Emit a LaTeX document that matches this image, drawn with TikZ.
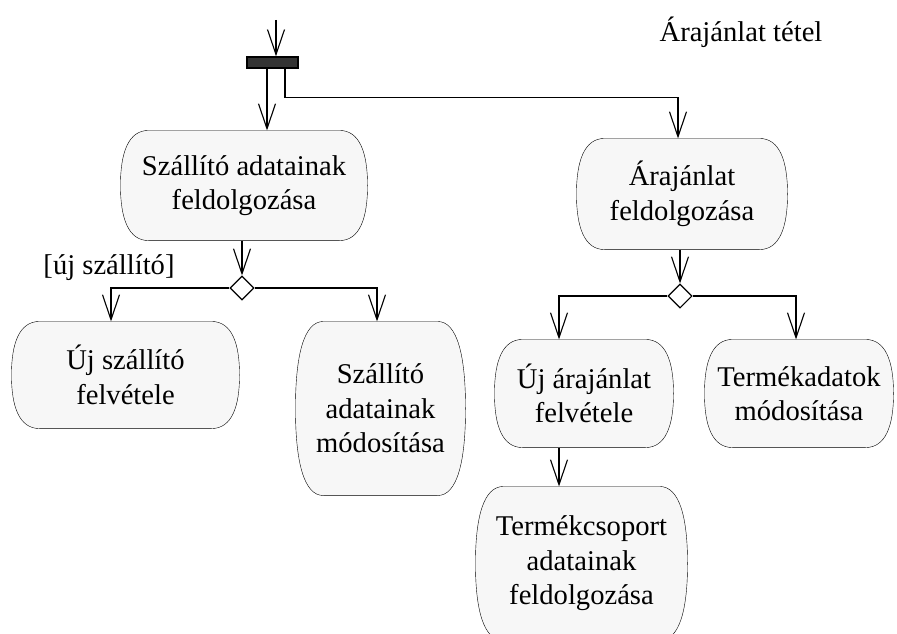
\documentclass[tikz,border=0pt]{standalone}
\usepackage{fontspec}
\setmainfont{Liberation Serif}
\definecolor{actgray}{RGB}{247,247,247}
\definecolor{bargray}{RGB}{51,51,51}
\usetikzlibrary{shapes.geometric,arrows.meta,positioning,calc,backgrounds}
\tikzset{
  activity/.style={align=center,inner sep=0pt},
  decision/.style={draw,fill=white,diamond,minimum width=24pt,minimum height=24pt,inner sep=0pt},
  forkbar/.style={draw,fill=bargray,line width=1.5pt,minimum width=51pt,minimum height=11pt,inner sep=0pt},
  flow/.style={-{Straight Barb[length=25pt,width=17pt]}},
}

\begin{document}
\begin{tikzpicture}[x=1pt,y=-1pt,line width=1.1pt,font=\fontsize{28.6}{34.5}\selectfont]
  \useasboundingbox (0,0) rectangle (897,634);
  \node (title) at (741,32) {Árajánlat tétel};
  \coordinate (start) at (276,20);
  \node[forkbar] (fork) at (272.5,62.5) {};
  \node[activity,minimum width=246pt,minimum height=109pt] (szfeld) at (244,185.5) {Szállító adatainak\\feldolgozása};
  \node[activity,minimum width=210pt,minimum height=110pt] (arfeld) at (682,194) {Árajánlat\\feldolgozása};
  \node[decision] (d1) at (242,288) {};
  \node[decision] (d2) at (680,296) {};
  \node (guard) at (109,268) {[új szállító]};
  \node[activity,minimum width=227pt,minimum height=106pt] (ujsz) at (125.5,375) {Új szállító\\felvétele};
  \node[activity,minimum width=169pt,minimum height=173pt] (szmod) at (380.5,408.5) {Szállító\\adatainak\\módosítása};
  \node[activity,minimum width=178pt,minimum height=107pt] (ujar) at (584,393.5) {Új árajánlat\\felvétele};
  \node[activity,minimum width=188pt,minimum height=107pt] (termmod) at (799,393.5) {Termékadatok\\módosítása};
  \node[activity,minimum width=211pt,minimum height=153pt] (termcs) at (581.5,563.5) {Termékcsoport\\adatainak\\feldolgozása};

  \begin{scope}[on background layer]
    \foreach \nd in {szfeld,arfeld,ujsz,szmod,ujar,termmod,termcs}
      \draw[fill=actgray] let \p1=(\nd.north east), \p2=(\nd.south west), \n1={0.2*(\y1-\y2)} in
        (\x2+28pt,\y1) -- (\x1-28pt,\y1)
        .. controls (\x1-8pt,\y1) and (\x1,\y1-\n1) .. (\nd.east)
        .. controls (\x1,\y2+\n1) and (\x1-8pt,\y2) .. (\x1-28pt,\y2)
        -- (\x2+28pt,\y2)
        .. controls (\x2+8pt,\y2) and (\x2,\y2+\n1) .. (\nd.west)
        .. controls (\x2,\y1-\n1) and (\x2+8pt,\y1) .. (\x2+28pt,\y1) -- cycle;
  \end{scope}

  \draw[flow] (start) -- (start |- fork.north);
  \draw[flow] ([xshift=-5.5pt]fork.south) -- ([xshift=-5.5pt]fork.south |- szfeld.north);
  \draw[flow] ([xshift=12.5pt]fork.south) -- ++(0,29) -| ([xshift=-4pt]arfeld.north);
  \draw[flow] (d1.north |- szfeld.south) -- (d1.north);
  \draw[flow] (d1.west) -| ([xshift=-14.5pt]ujsz.north);
  \draw[flow] (d1.east) -| ([xshift=-3.5pt]szmod.north);
  \draw[flow] (d2.north |- arfeld.south) -- (d2.north);
  \draw[flow] (d2.west) -| ([xshift=-25pt]ujar.north);
  \draw[flow] (d2.east) -| ([xshift=-3pt]termmod.north);
  \draw[flow] ([xshift=-25pt]ujar.south) -- ([xshift=-25pt]ujar.south |- termcs.north);
\end{tikzpicture}
\end{document}
